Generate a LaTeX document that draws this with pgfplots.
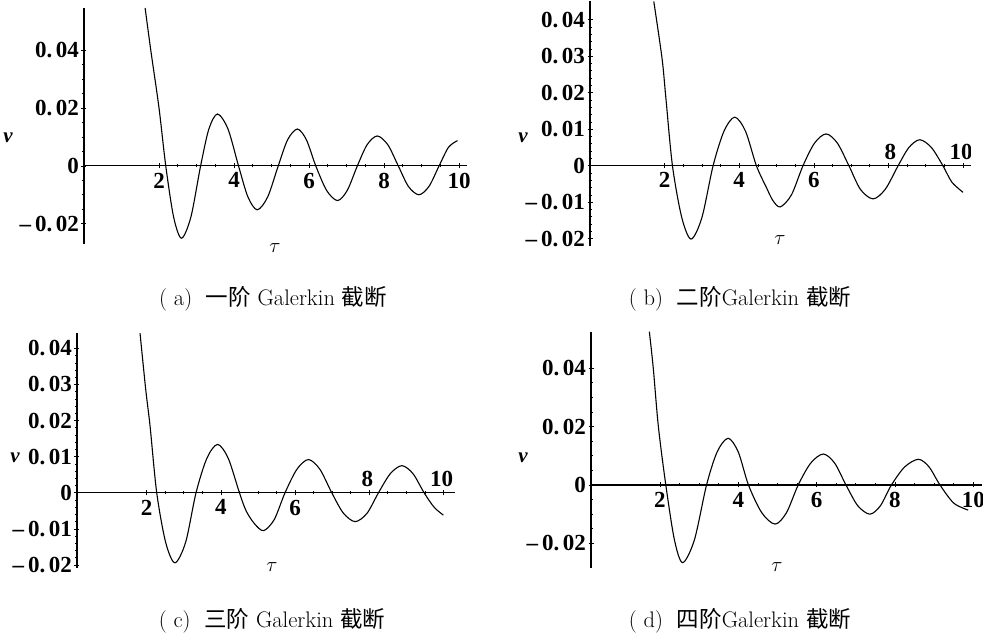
\documentclass[border=0pt]{standalone}
\usepackage{pgfplots}
\pgfplotsset{compat=1.18}
\usepackage{fontspec}
\newfontfamily\tnr{Liberation Serif}
\newfontfamily\cjk{Noto Sans CJK SC}
\newcommand{\tl}{\tnr\bfseries\fontsize{23}{25}\selectfont}
\newcommand{\mn}{–\hspace{4pt}}
\newcommand{\dt}{.\hspace{3.5pt}}
\pgfplotsset{
  mma/.style={
    scale only axis,
    axis x line=middle, axis y line=left,
    axis line style={-, line width=1.1pt},
    every inner x axis line/.append style={-},
    every outer y axis line/.append style={-},
    tick style={line width=0.6pt, black},
    major tick length=5pt, minor tick length=3pt,
    xtick={2,4,6,8,10},
    minor x tick num=3,
    scaled y ticks=false, scaled x ticks=false,
    tick label style={font=\tl},
    xticklabel style={anchor=north, yshift=-1pt},
    yticklabel style={anchor=east, xshift=1pt},
    clip=true,
  },
  curve/.style={black, line width=1.1pt, smooth, tension=0.5},
}
\begin{document}
\begin{tikzpicture}
\useasboundingbox (0,0) rectangle (983pt,637pt);
% (a)
\begin{axis}[mma, at={(84pt,393pt)}, anchor=south west,
  width=382.5pt, height=236pt,
  xmin=0, xmax=10.2, ymin=-0.027, ymax=0.0545,
  ytick={-0.02,0,0.02,0.04}, minor y tick num=3,
  xticklabels={2,4,6,8,10},
  yticklabels={{\mn 0\dt 02},0,{0\dt 02},{0\dt 04}}]
\addplot[curve] coordinates {
(1.63,0.0545) (1.78,0.040) (2.00,0.020) (2.18,0) (2.39,-0.0177) (2.60,-0.025)
(2.85,-0.0177) (3.11,0) (3.33,0.0127) (3.56,0.0179) (3.84,0.0127) (4.12,0)
(4.37,-0.0107) (4.62,-0.0152) (4.90,-0.0107) (5.18,0) (5.43,0.0090) (5.69,0.0127)
(5.93,0.0090) (6.18,0) (6.47,-0.0085) (6.76,-0.012) (7.02,-0.0085) (7.29,0)
(7.55,0.0073) (7.82,0.0103) (8.10,0.0073) (8.38,0) (8.65,-0.0071) (8.93,-0.010)
(9.20,-0.0071) (9.47,0) (9.72,0.0064) (9.96,0.0087)};
\end{axis}
% (b)
\begin{axis}[mma, at={(590pt,391pt)}, anchor=south west,
  width=380.5pt, height=244.6pt,
  xmin=0, xmax=10.2, ymin=-0.022, ymax=0.045,
  ytick={-0.02,-0.01,0,0.01,0.02,0.03,0.04}, minor y tick num=4,
  xticklabels={2,4,6,{},{}},
  yticklabels={{\mn 0\dt 02},{\mn 0\dt 01},0,{0\dt 01},{0\dt 02},{0\dt 03},{0\dt 04}}]
\addplot[curve] coordinates {
(1.71,0.045) (1.93,0.0295) (2.03,0.019) (2.21,0) (2.46,-0.0142) (2.71,-0.0201)
(3.00,-0.0142) (3.30,0) (3.59,0.0094) (3.88,0.0133) (4.17,0.0094) (4.46,0)
(4.73,-0.0060) (4.90,-0.0095) (5.10,-0.0113) (5.40,-0.0080) (5.71,0)
(6.02,0.0062) (6.33,0.0087) (6.63,0.0062) (6.94,0) (7.25,-0.0065) (7.59,-0.0091)
(7.92,-0.0064) (8.26,0) (8.55,0.0050) (8.84,0.0071) (9.15,0.0050) (9.46,0)
(9.70,-0.0045) (10.0,-0.0073)};
\node[font=\tl, anchor=south] at (axis cs:8.05,0.0006) {8};
\node[font=\tl, anchor=south] at (axis cs:9.95,0.0006) {10};
\end{axis}
% (c)
\begin{axis}[mma, at={(77pt,68.8pt)}, anchor=south west,
  width=377.5pt, height=235pt,
  xmin=0.12, xmax=10.3, ymin=-0.0209, ymax=0.0442,
  ytick={-0.02,-0.01,0,0.01,0.02,0.03,0.04}, minor y tick num=4,
  xticklabels={2,4,6,{},{}},
  yticklabels={{\mn 0\dt 02},{\mn 0\dt 01},0,{0\dt 01},{0\dt 02},{0\dt 03},{0\dt 04}}]
\addplot[curve] coordinates {
(1.82,0.0442) (1.97,0.0289) (2.09,0.0185) (2.27,0) (2.51,-0.0137) (2.76,-0.0194)
(3.05,-0.0137) (3.33,0) (3.62,0.0095) (3.91,0.0134) (4.20,0.0095) (4.50,0)
(4.68,-0.0050) (4.90,-0.0085) (5.15,-0.0105) (5.44,-0.0074) (5.73,0)
(6.05,0.0065) (6.36,0.0092) (6.67,0.0065) (6.99,0) (7.30,-0.0056) (7.62,-0.0080)
(7.94,-0.0057) (8.25,0) (8.57,0.0053) (8.88,0.0075) (9.18,0.0053) (9.48,0)
(9.75,-0.0040) (10.0,-0.0062)};
\node[font=\tl, anchor=south] at (axis cs:7.95,0.0006) {8};
\node[font=\tl, anchor=south] at (axis cs:9.95,0.0006) {10};
\end{axis}
% (d)
\begin{axis}[mma, at={(591pt,69.1pt)}, anchor=south west,
  width=390.5pt, height=236.2pt,
  xmin=0.24, xmax=10.21, ymin=-0.0284, ymax=0.0525,
  ytick={-0.02,0,0.02,0.04}, minor y tick num=3,
  xticklabels={2,4,6,8,10},
  yticklabels={{\mn 0\dt 02},0,{0\dt 02},{0\dt 04}}]
\addplot[curve] coordinates {
(1.73,0.0525) (1.83,0.040) (1.96,0.020) (2.15,0) (2.37,-0.0188) (2.58,-0.0266)
(2.88,-0.0188) (3.19,0) (3.46,0.0113) (3.74,0.0160) (4.00,0.0113) (4.26,0)
(4.60,-0.0095) (4.94,-0.0134) (5.23,-0.0095) (5.53,0) (5.85,0.0075) (6.17,0.0106)
(6.46,0.0075) (6.75,0) (7.05,-0.0071) (7.36,-0.0100) (7.63,-0.0071) (7.91,0)
(8.25,0.0062) (8.60,0.0088) (8.87,0.0062) (9.15,0) (9.50,-0.0062) (9.87,-0.0086)};
\end{axis}
% axis labels
\begin{scope}[every node/.style={font=\tnr\bfseries\itshape\fontsize{21}{22}\selectfont}]
\node at (8pt,499pt) {v};
\node at (523pt,499pt) {v};
\node at (15pt,179pt) {v};
\node at (523pt,179pt) {v};
\end{scope}
\begin{scope}[every node/.style={font=\fontsize{21}{22}\selectfont}]
\node at (275pt,389pt) {$\tau$};
\node at (780pt,397pt) {$\tau$};
\node at (272pt,70pt) {$\tau$};
\node at (777pt,70pt) {$\tau$};
\end{scope}
% captions
\begin{scope}[every node/.style={font=\fontsize{22.5}{25}\selectfont}]
\node at (273pt,338pt) {( a)\ \ {\cjk 一阶} Galerkin {\cjk 截断}};
\node at (740pt,338pt) {( b)\ \ {\cjk 二阶}Galerkin {\cjk 截断}};
\node at (272pt,16pt) {( c)\ \ {\cjk 三阶} Galerkin {\cjk 截断}};
\node at (740pt,16pt) {( d)\ \ {\cjk 四阶}Galerkin {\cjk 截断}};
\end{scope}
\end{tikzpicture}
\end{document}
